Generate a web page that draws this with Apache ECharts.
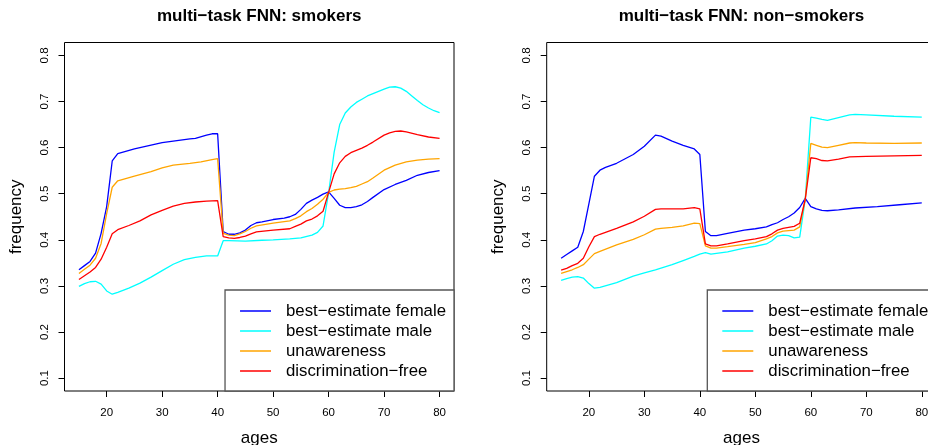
<!DOCTYPE html>
<html><head><meta charset="utf-8">
<script src="https://cdn.jsdelivr.net/npm/echarts@6/dist/echarts.min.js"></script>
<style>html,body{margin:0;padding:0;background:#fff}#c{width:928px;height:445px}</style>
</head><body><div id="c"></div>
<script>
const FONT = 'Liberation Sans, Arial, Helvetica, sans-serif';
const titles = ['multi−task FNN: smokers', 'multi−task FNN: non−smokers'];
const seriesNames = ['best−estimate female', 'best−estimate male', 'unawareness', 'discrimination−free'];
const colors = ['#0000FF', '#00FFFF', '#FFA500', '#FF0000'];
const xTicks = [20, 30, 40, 50, 60, 70, 80];
const yTicks = [0.1, 0.2, 0.3, 0.4, 0.5, 0.6, 0.7, 0.8];

// smokers panel: [age, frequency]
const smokersFemale = [[15,0.335],[16,0.344],[17,0.353],[18,0.371],[19,0.414],[20,0.472],[21,0.571],[22,0.587],[25,0.597],[30,0.611],[35,0.619],[36,0.62],[38,0.627],[39,0.630],[40,0.630],[41,0.418],[42,0.412],[43,0.412],[44,0.415],[45,0.421],[46,0.431],[47,0.437],[48,0.439],[50,0.444],[52,0.447],[53,0.45],[54,0.455],[55,0.466],[56,0.479],[57,0.486],[58,0.492],[59,0.499],[60,0.504],[61,0.49],[62,0.475],[63,0.470],[64,0.470],[65,0.472],[66,0.476],[67,0.483],[68,0.492],[70,0.509],[72,0.52],[74,0.529],[76,0.54],[78,0.546],[80,0.55]];
const smokersMale = [[15,0.299],[16,0.305],[17,0.309],[18,0.31],[19,0.304],[20,0.289],[21,0.282],[22,0.286],[24,0.295],[26,0.306],[28,0.319],[30,0.333],[32,0.347],[34,0.357],[36,0.362],[38,0.365],[40,0.365],[41,0.398],[42,0.398],[45,0.397],[48,0.399],[50,0.4],[53,0.402],[55,0.404],[57,0.41],[58,0.416],[59,0.43],[60,0.502],[61,0.59],[62,0.65],[63,0.675],[64,0.688],[65,0.698],[66,0.705],[67,0.712],[68,0.717],[69,0.722],[70,0.727],[71,0.731],[72,0.732],[73,0.729],[74,0.722],[75,0.712],[76,0.702],[77,0.693],[78,0.686],[79,0.68],[80,0.676]];
const smokersUnaware = [[15,0.327],[16,0.336],[17,0.345],[18,0.36],[19,0.392],[20,0.457],[21,0.514],[22,0.528],[25,0.538],[28,0.548],[30,0.556],[32,0.562],[35,0.566],[37,0.569],[39,0.574],[40,0.576],[41,0.414],[42,0.41],[43,0.409],[44,0.413],[45,0.418],[46,0.425],[47,0.43],[50,0.436],[53,0.441],[54,0.446],[55,0.452],[56,0.461],[57,0.468],[58,0.477],[59,0.488],[60,0.503],[61,0.508],[62,0.51],[63,0.511],[64,0.513],[65,0.516],[66,0.521],[67,0.526],[68,0.534],[70,0.551],[72,0.562],[74,0.569],[76,0.573],[78,0.575],[80,0.576]];
const smokersDiscFree = [[15,0.314],[16,0.322],[17,0.33],[18,0.34],[19,0.358],[20,0.384],[21,0.413],[22,0.422],[24,0.431],[26,0.441],[28,0.454],[30,0.464],[32,0.473],[34,0.479],[36,0.482],[38,0.484],[40,0.485],[41,0.407],[42,0.404],[43,0.403],[44,0.405],[45,0.408],[46,0.413],[47,0.417],[50,0.421],[53,0.424],[54,0.429],[55,0.434],[56,0.441],[57,0.445],[58,0.452],[59,0.462],[60,0.503],[61,0.543],[62,0.567],[63,0.581],[64,0.589],[65,0.594],[66,0.599],[67,0.605],[68,0.612],[70,0.627],[71,0.632],[72,0.635],[73,0.636],[74,0.634],[76,0.628],[78,0.623],[80,0.62]];

// non-smokers panel: [age, frequency]
const nonSmokersFemale = [[15,0.36],[16,0.368],[17,0.376],[18,0.384],[19,0.418],[20,0.478],[21,0.538],[22,0.551],[23,0.557],[25,0.566],[28,0.585],[30,0.603],[32,0.627],[33,0.625],[35,0.614],[37,0.605],[39,0.597],[40,0.585],[41,0.418],[42,0.409],[43,0.409],[45,0.414],[48,0.421],[50,0.424],[52,0.428],[53,0.433],[54,0.437],[55,0.444],[56,0.45],[57,0.458],[58,0.47],[59,0.49],[60,0.472],[61,0.467],[62,0.464],[63,0.463],[65,0.465],[68,0.469],[72,0.472],[76,0.476],[80,0.48]];
const nonSmokersMale = [[15,0.312],[16,0.316],[17,0.319],[18,0.32],[19,0.317],[20,0.305],[21,0.295],[22,0.297],[25,0.307],[28,0.321],[30,0.328],[32,0.335],[35,0.346],[37,0.355],[39,0.364],[40,0.369],[41,0.372],[42,0.369],[45,0.374],[48,0.382],[50,0.386],[52,0.391],[53,0.398],[54,0.408],[55,0.41],[56,0.409],[57,0.404],[58,0.406],[59,0.488],[60,0.666],[61,0.664],[62,0.661],[63,0.659],[65,0.665],[67,0.671],[68,0.672],[70,0.671],[75,0.668],[80,0.666]];
const nonSmokersUnaware = [[15,0.327],[16,0.331],[17,0.335],[18,0.34],[19,0.346],[20,0.358],[21,0.37],[22,0.375],[25,0.389],[28,0.401],[30,0.411],[32,0.423],[33,0.425],[35,0.427],[37,0.43],[39,0.436],[40,0.435],[41,0.387],[42,0.382],[43,0.382],[45,0.385],[48,0.39],[50,0.394],[52,0.402],[53,0.407],[54,0.415],[55,0.419],[56,0.42],[57,0.421],[58,0.428],[59,0.488],[60,0.609],[61,0.605],[62,0.601],[63,0.6],[65,0.605],[67,0.61],[68,0.611],[70,0.61],[75,0.609],[80,0.61]];
const nonSmokersDiscFree = [[15,0.334],[16,0.338],[17,0.344],[18,0.349],[19,0.36],[20,0.385],[21,0.407],[22,0.412],[25,0.425],[28,0.439],[30,0.451],[32,0.466],[33,0.467],[35,0.467],[37,0.467],[39,0.47],[40,0.467],[41,0.391],[42,0.387],[43,0.387],[45,0.391],[48,0.398],[50,0.402],[52,0.407],[53,0.413],[54,0.421],[55,0.425],[56,0.427],[57,0.429],[58,0.436],[59,0.488],[60,0.578],[61,0.576],[62,0.572],[63,0.571],[65,0.575],[67,0.58],[70,0.581],[75,0.582],[80,0.583]];

const panels = [
  [smokersFemale, smokersMale, smokersUnaware, smokersDiscFree],
  [nonSmokersFemale, nonSmokersMale, nonSmokersUnaware, nonSmokersDiscFree]
];

const gridLefts = [64.5, 546.7];
const gridW = 389.5, gridTop = 42.5, gridH = 348.5;

const chart = echarts.init(document.getElementById('c'), null, {renderer: 'canvas'});

const grids = [], xAxes = [], yAxes = [], series = [], titleOpts = [], legends = [];
gridLefts.forEach((gl, p) => {
  grids.push({left: gl, top: gridTop, width: gridW, height: gridH, show: true,
    borderColor: '#000', borderWidth: 1, backgroundColor: 'transparent', containLabel: false,
    outerBoundsMode: 'none'});
  xAxes.push({gridIndex: p, type: 'value', min: 12.4, max: 82.6,
    axisLine: {show: false}, splitLine: {show: false},
    axisTick: {show: true, length: 6, customValues: xTicks, lineStyle: {color: '#000', width: 1}},
    axisLabel: {customValues: xTicks, margin: 16, fontSize: 11.5, color: '#000', fontFamily: FONT},
    name: 'ages', nameLocation: 'middle', nameGap: 39,
    nameTextStyle: {fontSize: 17, color: '#000', fontFamily: FONT}});
  yAxes.push({gridIndex: p, type: 'value', min: 0.072, max: 0.828,
    axisLine: {show: false}, splitLine: {show: false},
    axisTick: {show: true, length: 6, customValues: yTicks, lineStyle: {color: '#000', width: 1}},
    axisLabel: {customValues: yTicks, rotate: 90, margin: 14, fontSize: 11.5, color: '#000', fontFamily: FONT,
      formatter: v => v.toFixed(1)},
    name: 'frequency', nameLocation: 'middle', nameGap: 40,
    nameTextStyle: {fontSize: 17, color: '#000', fontFamily: FONT}});
  titleOpts.push({text: titles[p], left: gl + gridW / 2, textAlign: 'center', top: 7.5, padding: 0,
    textStyle: {fontSize: 17, fontWeight: 'bold', color: '#000', fontFamily: FONT}});
  panels[p].forEach((data, i) => {
    series.push({name: seriesNames[i], type: 'line', xAxisIndex: p, yAxisIndex: p,
      data: data, symbol: 'none', showSymbol: false, smooth: false,
      lineStyle: {color: colors[i], width: 1.3}, itemStyle: {color: colors[i]}, z: 2 + i});
  });
  const lg = {orient: 'vertical', data: seriesNames, icon: 'rect', itemWidth: 31, itemHeight: 1.5,
    itemGap: 0, padding: [11, 8, 10, 15], borderColor: '#555', borderWidth: 1.3, backgroundColor: '#fff',
    selectedMode: false, z: 20,
    textStyle: {fontSize: 16.8, lineHeight: 20, color: '#000', fontFamily: FONT, padding: [0, 0, 0, 10]}};
  if (p === 0) { lg.right = 928 - (gl + gridW); lg.bottom = 445 - (gridTop + gridH); }
  else { lg.left = 707.3; lg.bottom = 445 - (gridTop + gridH); }
  legends.push(lg);
});

chart.setOption({
  animation: false,
  backgroundColor: '#fff',
  textStyle: {fontFamily: FONT},
  title: titleOpts,
  legend: legends,
  grid: grids,
  xAxis: xAxes,
  yAxis: yAxes,
  series: series
});
</script></body></html>
